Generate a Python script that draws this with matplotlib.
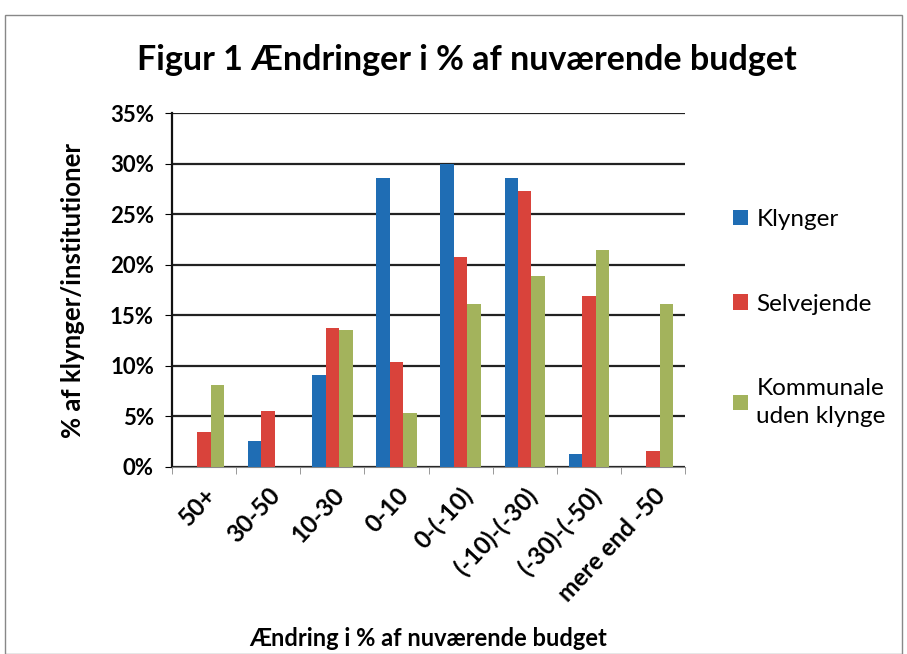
import matplotlib.pyplot as plt
from matplotlib.ticker import FuncFormatter, FixedLocator
from matplotlib.patches import Rectangle
import numpy as np

plt.rcParams['font.family'] = ['Lato', 'DejaVu Sans']

categories = ['50+', '30-50', '10-30', '0-10', '0-(-10)', '(-10)-(-30)',
              '(-30)-(-50)', 'mere end -50']
klynger = [0.0, 2.6, 9.1, 28.6, 30.0, 28.6, 1.3, 0.0]
selvejende = [3.5, 5.5, 13.7, 10.4, 20.8, 27.3, 16.9, 1.6]
kommunale = [8.1, 0.0, 13.5, 5.3, 16.1, 18.9, 21.5, 16.1]

series = [
    ('Klynger', klynger, '#1f6db4'),
    ('Selvejende', selvejende, '#d9433b'),
    ('Kommunale\nuden klynge', kommunale, '#a3b35c'),
]

fig = plt.figure(figsize=(9.07, 6.54), dpi=100)
ax = fig.add_axes([0.1896, 0.286, 0.5657, 0.541])

x = np.arange(len(categories))
w = 0.21
for i, (name, vals, color) in enumerate(series):
    ax.bar(x + (i - 1) * w, vals, width=w, color=color, label=name, zorder=3)

ax.set_xlim(-0.5, len(categories) - 0.5)
ax.set_ylim(0, 35)
ax.set_yticks(range(0, 36, 5))
ax.yaxis.set_major_formatter(FuncFormatter(lambda v, p: f'{int(v)}%'))
ax.grid(axis='y', color='#222222', linewidth=1.6, zorder=0)

ax.set_xticks(x)
ax.set_xticklabels(categories, rotation=47, ha='right', rotation_mode='anchor',
                   fontsize=17.5, fontweight='bold')
ax.xaxis.set_minor_locator(FixedLocator(np.arange(-0.5, len(categories), 1)))
ax.tick_params(axis='x', which='major', length=0, pad=12)
ax.tick_params(axis='x', which='minor', length=5, color='#888888')
ax.tick_params(axis='y', length=5, labelsize=16, pad=8)
for lbl in ax.get_yticklabels():
    lbl.set_fontweight('bold')

for s in ['top', 'right']:
    ax.spines[s].set_visible(False)
ax.spines['left'].set_linewidth(1.6)
ax.spines['left'].set_color('#111111')
ax.spines['bottom'].set_color('#888888')

ax.set_ylabel('% af klynger/institutioner', fontsize=18.5, fontweight='bold', labelpad=18)
ax.set_xlabel('Ændring i % af nuværende budget', fontsize=17, fontweight='bold', labelpad=16)

fig.text(0.515, 0.908, 'Figur 1 Ændringer i % af nuværende budget',
         fontsize=24.5, fontweight='bold', ha='center', va='center')

leg = ax.legend(loc='center left', bbox_to_anchor=(1.094, 0.42), frameon=False,
                borderaxespad=0, borderpad=0,
                handlelength=0.6, handleheight=0.6, handletextpad=0.35,
                labelspacing=2.6, prop={'size': 17.5})
for t in leg.get_texts():
    t.set_linespacing(1.45)

fig.patches.append(Rectangle((0.006, 0.0), 0.988, 0.977, transform=fig.transFigure,
                             fill=False, edgecolor='#888888', linewidth=1))

fig.savefig('out.png', dpi=100)
